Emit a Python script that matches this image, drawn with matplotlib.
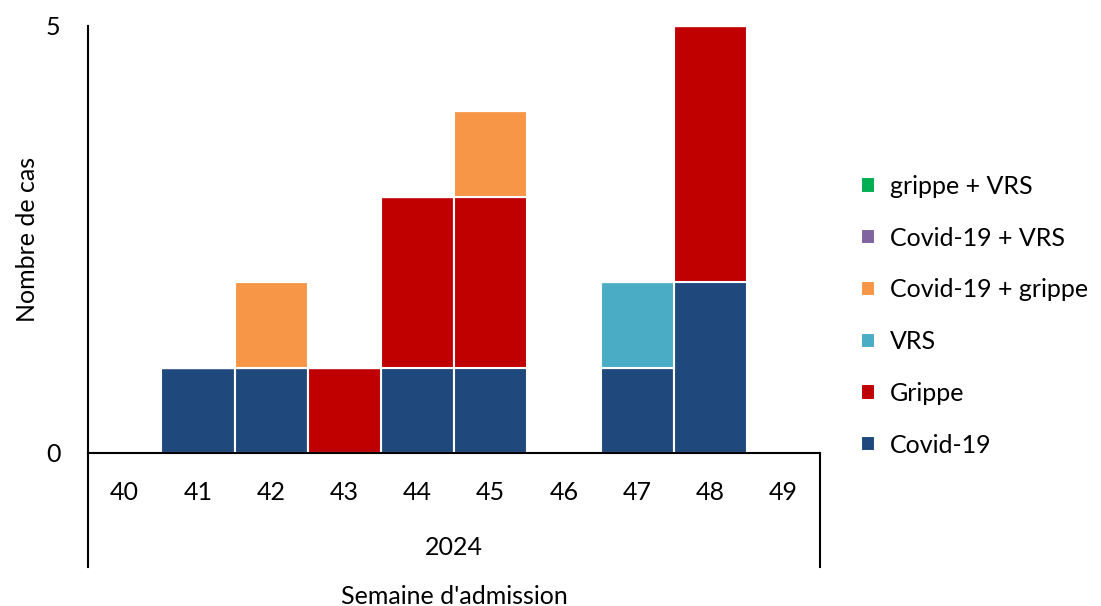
import matplotlib
matplotlib.use('Agg')
import matplotlib.pyplot as plt
import numpy as np

plt.rcParams['font.family'] = ['Lato', 'DejaVu Sans']

# Semaines d'admission et nombre de cas par catégorie
semaines = ['40', '41', '42', '43', '44', '45', '46', '47', '48', '49']
annee = '2024'
covid = [0, 1, 1, 0, 1, 1, 0, 1, 2, 0]
grippe = [0, 0, 0, 1, 2, 2, 0, 0, 3, 0]
vrs = [0, 0, 0, 0, 0, 0, 0, 1, 0, 0]
covid_grippe = [0, 0, 1, 0, 0, 1, 0, 0, 0, 0]
covid_vrs = [0, 0, 0, 0, 0, 0, 0, 0, 0, 0]
grippe_vrs = [0, 0, 0, 0, 0, 0, 0, 0, 0, 0]

series = [
    ('Covid-19', covid, '#1F497D'),
    ('Grippe', grippe, '#C00000'),
    ('VRS', vrs, '#4BACC6'),
    ('Covid-19 + grippe', covid_grippe, '#F79646'),
    ('Covid-19 + VRS', covid_vrs, '#8064A2'),
    ('grippe + VRS', grippe_vrs, '#00B050'),
]

fs = 18

fig = plt.figure(figsize=(11.01, 6.06), dpi=100)
ax = fig.add_axes([0.08, 0.2525, 0.665, 0.705])

x = np.arange(len(semaines))
bottom = np.zeros(len(semaines))
handles = []
for nom, vals, couleur in series:
    vals = np.array(vals, dtype=float)
    b = ax.bar(x, vals, width=1.0, bottom=bottom, color=couleur,
               edgecolor='white', linewidth=1.5, label=nom)
    handles.append(b)
    bottom += vals

ax.set_xlim(-0.5, len(semaines) - 0.5)
ax.set_ylim(0, 5)
ax.set_yticks([0, 5])
ax.tick_params(axis='y', length=0, pad=20, labelsize=fs)
ax.set_xticks(x)
ax.set_xticklabels(semaines)
ax.tick_params(axis='x', length=0, pad=20, labelsize=fs)

for s in ['top', 'right']:
    ax.spines[s].set_visible(False)
for s in ['left', 'bottom']:
    ax.spines[s].set_linewidth(1.5)
    ax.spines[s].set_color('black')

# Lignes verticales de la zone des catégories
for xa in [0, 1]:
    ax.plot([xa, xa], [0, -0.268], transform=ax.transAxes, color='black',
            linewidth=1.5, clip_on=False)

ax.text(0.5, -0.222, annee, transform=ax.transAxes, ha='center', va='center',
        fontsize=fs)
ax.text(0.5, -0.335, "Semaine d'admission", transform=ax.transAxes,
        ha='center', va='center', fontsize=fs)
ax.set_ylabel('Nombre de cas', fontsize=fs, labelpad=5)

leg = fig.legend(handles[::-1], [s[0] for s in series][::-1],
                 loc='center left', bbox_to_anchor=(0.762, 0.479),
                 frameon=False, fontsize=fs, handlelength=0.55,
                 handleheight=0.55, handletextpad=0.6, labelspacing=1.15)

fig.savefig('out.png', dpi=100)
